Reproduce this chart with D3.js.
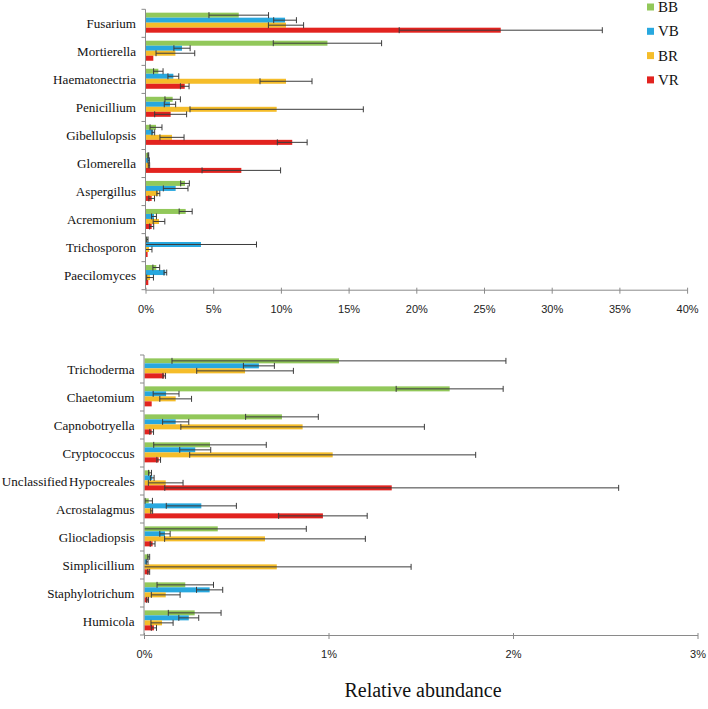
<!DOCTYPE html>
<html><head><meta charset="utf-8">
<script src="https://cdn.jsdelivr.net/npm/d3@7"></script>
<style>
body{margin:0;background:#fff}svg{display:block}
.serif{font-family:"Liberation Serif","Times New Roman",Times,serif}
.sans{font-family:"Liberation Sans",Arial,Helvetica,sans-serif}
</style>
</head><body>
<svg id="chart" width="708" height="709"></svg>
<script>
// ---------- DATA ----------
const seriesNames = ["BB", "VB", "BR", "VR"];
const seriesColors = ["#92C85A", "#28A8DF", "#F5BD2A", "#E2231F"];

const topCategories = ["Fusarium","Mortierella","Haematonectria","Penicillium","Gibellulopsis","Glomerella","Aspergillus","Acremonium","Trichosporon","Paecilomyces"];
const topBB = [6.85, 13.4, 0.91, 1.97, 0.74, 0.17, 2.88, 2.93, 0.10, 0.76];
const topVB = [10.27, 2.66, 2.02, 1.77, 0.54, 0.20, 2.19, 0.59, 4.06, 1.43];
const topBR = [10.34, 2.17, 10.34, 9.65, 1.92, 0.22, 0.91, 0.96, 0.22, 0.30];
const topVR = [26.2, 0.54, 2.86, 1.82, 10.8, 7.04, 0.42, 0.42, 0.12, 0.17];
const topBBerr = [2.2, 4.0, 0.35, 0.57, 0.44, 0.03, 0.32, 0.48, 0.05, 0.25];
const topVBerr = [0.84, 0.6, 0.4, 0.42, 0.1, 0.05, 0.91, 0.18, 4.1, 0.1];
const topBRerr = [1.3, 1.43, 1.92, 6.4, 0.89, 0.05, 0.11, 0.43, 0.22, 0.25];
const topVRerr = [7.5, 0, 0.32, 1.18, 1.1, 2.9, 0.21, 0.15, 0, 0];
const topTicks = [0, 5, 10, 15, 20, 25, 30, 35, 40];

const botCategories = ["Trichoderma","Chaetomium","Capnobotryella","Cryptococcus","Unclassified Hypocreales","Acrostalagmus","Gliocladiopsis","Simplicillium","Staphylotrichum","Humicola"];
const botBB = [1.054, 1.654, 0.745, 0.355, 0.030, 0.023, 0.397, 0.023, 0.221, 0.272];
const botVB = [0.620, 0.117, 0.169, 0.275, 0.042, 0.308, 0.111, 0.014, 0.353, 0.240];
const botBR = [0.545, 0.169, 0.857, 1.020, 0.115, 0.039, 0.653, 0.717, 0.115, 0.095];
const botVR = [0.107, 0.039, 0.039, 0.077, 1.340, 0.967, 0.044, 0.023, 0.017, 0.051];
const botBBerr = [0.905, 0.29, 0.197, 0.305, 0.008, 0.02, 0.48, 0.005, 0.153, 0.143];
const botVBerr = [0.084, 0.07, 0.071, 0.084, 0.01, 0.19, 0.028, 0.005, 0.071, 0.054];
const botBRerr = [0.262, 0.086, 0.66, 0.775, 0.094, 0.005, 0.544, 0.728, 0.078, 0.06];
const botVRerr = [0.007, 0, 0.01, 0.01, 1.23, 0.24, 0.013, 0.005, 0.005, 0.014];
const botTicks = [0, 1, 2, 3];

const xTitle = "Relative abundance";

// ---------- DRAW ----------
const svg = d3.select("#chart");
const axisColor = "#8a8a8a";

function panel(cfg) {
  const {cats, vals, errs, xMax, ticks, x0, x1, y0, y1} = cfg;
  const x = d3.scaleLinear().domain([0, xMax]).range([x0, x1]);
  const y = d3.scaleBand().domain(cats).range([y0, y1]).paddingInner(0).paddingOuter(0);
  const ys = d3.scaleBand().domain(seriesNames).range([0, y.bandwidth()]).paddingInner(0).paddingOuter(0.8).align(0.42);

  const g = svg.append("g");
  const rows = [];
  cats.forEach((c, i) => seriesNames.forEach((s, k) => {
    rows.push({cat: c, s, k, v: vals[k][i], e: errs[k][i]});
  }));

  g.selectAll("rect.bar").data(rows).join("rect")
    .attr("x", x(0))
    .attr("y", d => y(d.cat) + ys(d.s))
    .attr("width", d => Math.max(0, x(d.v) - x(0)))
    .attr("height", ys.bandwidth())
    .attr("fill", d => seriesColors[d.k]);

  const eb = rows.filter(d => d.e > 0);
  const cy = d => y(d.cat) + ys(d.s) + ys.bandwidth() / 2;
  const lo = d => x(Math.max(0, d.v - d.e));
  const hi = d => x(d.v + d.e);
  const eg = g.append("g").attr("stroke", "#3c3c3c").attr("stroke-width", 1);
  eg.selectAll("line.eb").data(eb).join("line")
    .attr("x1", lo).attr("x2", hi).attr("y1", cy).attr("y2", cy);
  eg.selectAll("line.capL").data(eb.filter(d => d.v - d.e > 0)).join("line")
    .attr("x1", lo).attr("x2", lo).attr("y1", d => cy(d) - 3).attr("y2", d => cy(d) + 3);
  eg.selectAll("line.capR").data(eb).join("line")
    .attr("x1", hi).attr("x2", hi).attr("y1", d => cy(d) - 3).attr("y2", d => cy(d) + 3);

  // y axis
  const ya = g.append("g").attr("stroke", axisColor).attr("stroke-width", 1);
  ya.append("line").attr("x1", x(0) - 0.5).attr("x2", x(0) - 0.5).attr("y1", y0).attr("y2", y1);
  const bounds = cats.map(c => y(c)).concat([y1]);
  ya.selectAll("line.t").data(bounds).join("line")
    .attr("x1", x(0) - 4.5).attr("x2", x(0) - 0.5).attr("y1", d => d).attr("y2", d => d);

  // x axis
  const xa = g.append("g").attr("stroke", axisColor).attr("stroke-width", 1);
  xa.append("line").attr("x1", x(0) - 0.5).attr("x2", x1).attr("y1", y1 + 0.5).attr("y2", y1 + 0.5);
  xa.selectAll("line.t").data(ticks).join("line")
    .attr("x1", d => x(d)).attr("x2", d => x(d)).attr("y1", y1 - 2).attr("y2", y1 + 4);

  g.selectAll("text.tl").data(ticks).join("text")
    .attr("class", "sans")
    .attr("x", d => x(d)).attr("y", y1 + 23)
    .attr("text-anchor", "middle")
    .attr("font-size", 11).attr("fill", "#222")
    .text(d => d + "%");

  g.selectAll("text.cl").data(cats).join("text")
    .attr("class", "serif")
    .attr("x", x(0) - 10).attr("y", c => y(c) + y.bandwidth() / 2 + 4.5)
    .attr("text-anchor", "end")
    .attr("font-size", 13.1).attr("fill", "#111")
    .attr("word-spacing", -1.5)
    .text(c => c);
}

panel({cats: topCategories, vals: [topBB, topVB, topBR, topVR], errs: [topBBerr, topVBerr, topBRerr, topVRerr],
  xMax: 40, ticks: topTicks, x0: 146, x1: 687.6, y0: 9.3, y1: 289.7});
panel({cats: botCategories, vals: [botBB, botVB, botBR, botVR], errs: [botBBerr, botVBerr, botBRerr, botVRerr],
  xMax: 3, ticks: botTicks, x0: 144.5, x1: 698, y0: 355, y1: 635});

// legend
const lg = svg.append("g");
seriesNames.forEach((s, i) => {
  const cy = 7 + i * 24.3;
  lg.append("rect").attr("x", 647).attr("y", cy - 3.5).attr("width", 7).attr("height", 7).attr("fill", seriesColors[i]);
  lg.append("text").attr("class", "serif").attr("x", 658).attr("y", cy + 5)
    .attr("font-size", 15).attr("fill", "#111").text(s);
});

svg.append("text").attr("class", "serif").attr("x", 423).attr("y", 697)
  .attr("text-anchor", "middle")
  .attr("font-size", 20).attr("fill", "#111").text(xTitle);
</script>
</body></html>
